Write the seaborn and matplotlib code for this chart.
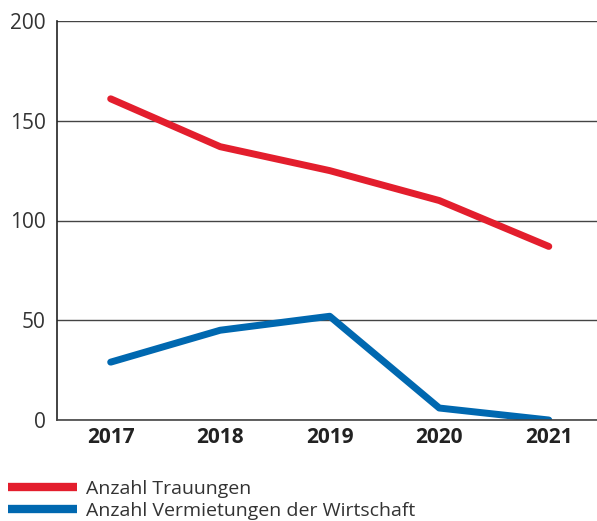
import matplotlib
matplotlib.use("Agg")
import matplotlib.pyplot as plt
import pandas as pd
import seaborn as sns

years = ["2017", "2018", "2019", "2020", "2021"]
trauungen = [161, 137, 125, 110, 87]
vermietungen = [29, 45, 52, 6, 0]
series_names = ["Anzahl Trauungen", "Anzahl Vermietungen der Wirtschaft"]
colors = ["#e31e2d", "#0068b0"]

df = pd.DataFrame({
    "Jahr": years * 2,
    "Wert": trauungen + vermietungen,
    "Serie": [series_names[0]] * len(years) + [series_names[1]] * len(years),
})

sns.set_style("white")
plt.rcParams["font.family"] = ["Open Sans", "DejaVu Sans"]

fig = plt.figure(figsize=(5.97, 5.21), dpi=100)
ax = fig.add_axes([57 / 597, 1 - 420 / 521, 1 - 57 / 597, 399 / 521])

sns.lineplot(data=df, x="Jahr", y="Wert", hue="Serie", palette=colors,
             linewidth=5, ax=ax, legend=False, sort=False)

ax.set_ylim(0, 200)
ax.set_xlim(-0.49, 4.44)
ax.set_yticks([0, 50, 100, 150, 200])
ax.yaxis.grid(True, color="#444444", linewidth=1)
ax.set_axisbelow(True)
ax.set_xlabel("")
ax.set_ylabel("")
for s in ["top", "right"]:
    ax.spines[s].set_visible(False)
ax.spines["left"].set_color("#222222")
ax.spines["bottom"].set_color("#444444")
ax.spines["left"].set_linewidth(1.2)
ax.spines["bottom"].set_linewidth(1.2)
ax.tick_params(axis="both", length=0)
ax.tick_params(axis="y", pad=8, labelsize=15, labelcolor="#333333")
ax.tick_params(axis="x", pad=5, labelsize=15, labelcolor="#222222")
for lab in ax.get_xticklabels():
    lab.set_fontweight("bold")

# legend sits flush with the bottom edge, under the plot
handles = [plt.Line2D([], [], color=c, linewidth=6, solid_capstyle="butt") for c in colors]
fig.legend(handles, series_names, loc="lower left", bbox_to_anchor=(7 / 597, 0.0),
           frameon=False, fontsize=14, handlelength=3.55, handletextpad=0.45,
           labelspacing=0.2, labelcolor="#333333", borderaxespad=0, borderpad=0.05)

fig.savefig("out.png", dpi=100)
